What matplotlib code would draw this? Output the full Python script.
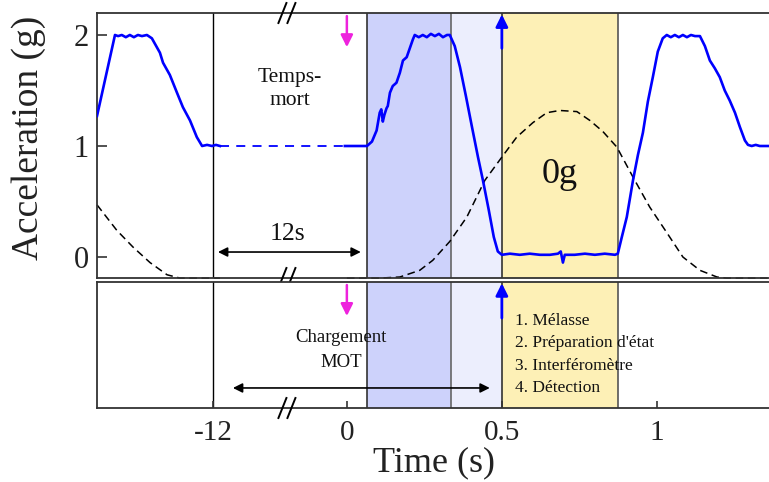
import numpy as np
import matplotlib
matplotlib.use("Agg")
import matplotlib.pyplot as plt

plt.rcParams['font.family'] = ['Liberation Serif', 'DejaVu Serif']

# ---------------- data (time in s, acceleration in g) ----------------
# end of previous parabola (before the 12 s dead time)
prev_t = [-12.374, -12.316, -12.306, -12.294, -12.281, -12.268, -12.255, -12.242, -12.229,
          -12.213, -12.197, -12.171, -12.161, -12.139, -12.116, -12.097, -12.074, -12.052,
          -12.035, -12.019, -12.003, -11.73, -11.37]
prev_g = [1.27, 2.00, 1.99, 2.00, 1.98, 2.00, 1.98, 2.00, 1.99,
          2.00, 1.97, 1.84, 1.75, 1.64, 1.48, 1.35, 1.23, 1.08,
          1.00, 1.01, 1.00, 1.01, 1.00]
# dead time (1 g, dashed)
dead_t = [-11.37, -0.18]
dead_g = [1.0, 1.0]
# current parabola
acc_t = [-0.18, 0.000, 0.065, 0.081, 0.096, 0.106, 0.111, 0.116, 0.121, 0.128, 0.132, 0.139,
         0.148, 0.160, 0.171, 0.181, 0.193, 0.203, 0.213, 0.219,
         0.232, 0.245, 0.258, 0.271, 0.284, 0.297, 0.310, 0.323, 0.332,
         0.348, 0.365, 0.384, 0.403, 0.423, 0.439, 0.458, 0.474, 0.487, 0.500,
         0.526, 0.558, 0.590, 0.623, 0.655, 0.681, 0.690, 0.697, 0.703, 0.735,
         0.768, 0.800, 0.832, 0.865, 0.874,
         0.887, 0.903, 0.923, 0.939, 0.955, 0.971, 0.987, 1.003, 1.019, 1.032,
         1.045, 1.058, 1.071, 1.084, 1.097, 1.110, 1.123, 1.139,
         1.155, 1.171, 1.187, 1.203, 1.219, 1.235, 1.252, 1.268, 1.284, 1.294,
         1.306, 1.319, 1.332, 1.365]
acc_g = [1.00, 1.00, 1.00, 1.04, 1.14, 1.30, 1.33, 1.22, 1.28, 1.34, 1.36, 1.48,
         1.54, 1.57, 1.66, 1.77, 1.80, 1.88, 1.96, 2.00,
         1.98, 2.00, 1.98, 2.01, 1.99, 2.01, 1.98, 2.00, 2.00,
         1.90, 1.71, 1.45, 1.18, 0.90, 0.69, 0.42, 0.18, 0.05, 0.02,
         0.03, 0.02, 0.03, 0.02, 0.02, 0.03, 0.05, -0.05, 0.02, 0.02,
         0.03, 0.02, 0.03, 0.02, 0.03,
         0.18, 0.36, 0.69, 0.92, 1.12, 1.40, 1.62, 1.85, 1.97, 2.00,
         1.98, 2.00, 1.98, 2.00, 1.98, 2.00, 1.99, 1.99,
         1.90, 1.77, 1.70, 1.62, 1.50, 1.41, 1.30, 1.17, 1.05, 1.01,
         1.00, 1.01, 1.00, 1.00]
# trajectory (arbitrary units, dashed black)
traj1_t = [-12.374, -12.310, -12.258, -12.203, -12.148, -12.106, -12.0, -11.37]
traj1_y = [0.47, 0.24, 0.09, -0.05, -0.16, -0.19, -0.19, -0.19]
traj2_t = [0.000, 0.106, 0.171, 0.235, 0.277, 0.332, 0.387, 0.445, 0.5, 0.548, 0.600,
           0.645, 0.687, 0.742, 0.784, 0.826, 0.871, 0.923, 0.977, 1.032, 1.084, 1.139,
           1.194, 1.226, 1.365]
traj2_y = [-0.19, -0.19, -0.18, -0.12, -0.03, 0.14, 0.36, 0.69, 0.90, 1.08, 1.21,
           1.30, 1.32, 1.31, 1.23, 1.13, 0.99, 0.72, 0.45, 0.22, 0.00, -0.12,
           -0.18, -0.19, -0.19]
# phases
phase_edges = [0.065, 0.335, 0.5, 0.874]
phase_colors = ['#cdd2fb', '#eceefd', '#fdf0b6']
list_text = "1. Mélasse\n2. Préparation d'état\n3. Interféromètre\n4. Détection"
xtick_times = [-12, 0, 0.5, 1]
xtick_labels = ['-12', '0', '0.5', '1']
ytick_vals = [0, 1, 2]

# broken time axis: the 12 s gap is compressed
GAP_W = 0.432
def to_axis(t):
    t = np.asarray(t, float)
    return np.where(t <= -12, t + 12 - GAP_W,
                    np.where(t < 0, -GAP_W + (t + 12) * GAP_W / 12, t))

W, H = 769, 482
fig = plt.figure(figsize=(W / 100, H / 100), dpi=100)
L, R = 97, 770
AXW = R - L
ax = fig.add_axes([L / W, 1 - 278 / H, AXW / W, 265 / H])
ax2 = fig.add_axes([L / W, 1 - 408 / H, AXW / W, 126 / H])

xmin, xmax = float(to_axis(-12.374)), 1.365
for a in (ax, ax2):
    a.set_xlim(xmin, xmax)
    for s in a.spines.values():
        s.set_color('#333333')
        s.set_linewidth(1.3)
    a.spines['right'].set_visible(False)
    # phase shading
    for (x0, x1), c in zip(zip(phase_edges[:-1], phase_edges[1:]), phase_colors):
        a.axvspan(x0, x1, color=c, lw=0, zorder=0)
    a.axvline(float(to_axis(-12)), color='black', lw=1.0, zorder=1)
    for xe, c in zip(phase_edges, ['#333333', '#666666', '#333333', '#555555']):
        a.axvline(xe, color=c, lw=1.2, zorder=1)

ax.set_ylim(-0.189, 2.198)
ax2.set_ylim(0, 1)

# curves
ax.plot(to_axis(prev_t), prev_g, color='#0000ff', lw=1.9, zorder=3)
ax.plot(to_axis(dead_t), dead_g, color='#0000ff', lw=1.3, ls=(0, (5, 4)), zorder=3)
ax.plot(to_axis(acc_t), acc_g, color='#0000ff', lw=1.9, zorder=3)
ax.plot(to_axis(traj1_t), traj1_y, color='black', lw=1.1, ls=(0, (5, 3)), zorder=2, clip_on=False)
ax.plot(to_axis(traj2_t), traj2_y, color='black', lw=1.1, ls=(0, (5, 3)), zorder=2, clip_on=False)

# ticks
ax.set_yticks(ytick_vals)
ax.set_yticklabels([str(v) for v in ytick_vals])
ax.tick_params(axis='y', direction='in', length=7, width=1.2, labelsize=22, pad=6,
               colors='#333333', labelcolor='#222222')
ax.tick_params(axis='x', bottom=False, labelbottom=False)
ax.set_ylabel('Acceleration (g)', fontsize=27, color='#222222')
ax.yaxis.set_label_coords((46 - L) / AXW, 0.53)

ax2.set_yticks([])
ax2.set_xticks(to_axis(xtick_times))
ax2.set_xticklabels(xtick_labels)
ax2.tick_params(axis='x', direction='in', length=5, width=1.2, labelsize=21, pad=9,
                colors='#333333', labelcolor='#222222')
ax2.set_xlabel('Time (s)', fontsize=26, color='#222222', labelpad=0)

# arrows
mag = '#ee22dd'
x0 = float(to_axis(0))
ax.annotate('', xy=(x0, 1.89), xytext=(x0, 2.17),
            arrowprops=dict(arrowstyle='-|>', color=mag, lw=1.8, mutation_scale=18, shrinkA=0, shrinkB=0))
ax2.annotate('', xy=(x0, 0.73), xytext=(x0, 0.976),
             xycoords=('data', 'axes fraction'), textcoords=('data', 'axes fraction'),
             arrowprops=dict(arrowstyle='-|>', color=mag, lw=1.8, mutation_scale=18, shrinkA=0, shrinkB=0))
ax.annotate('', xy=(0.5, 2.185), xytext=(0.5, 1.88),
            arrowprops=dict(arrowstyle='-|>', color='#0000ff', lw=2.0, mutation_scale=18, shrinkA=0, shrinkB=0))
ax2.annotate('', xy=(0.5, 0.99), xytext=(0.5, 0.714),
             xycoords=('data', 'axes fraction'), textcoords=('data', 'axes fraction'),
             arrowprops=dict(arrowstyle='-|>', color='#0000ff', lw=2.0, mutation_scale=18, shrinkA=0, shrinkB=0))

# double arrows
ax.annotate('', xy=(float(to_axis(-11.55)), 0.045), xytext=(0.045, 0.045),
            arrowprops=dict(arrowstyle='<|-|>', color='black', lw=1.2, mutation_scale=14, shrinkA=0, shrinkB=0))
ax2.annotate('', xy=(float(to_axis(-10.21)), 0.159), xytext=(0.461, 0.159),
             xycoords=('data', 'axes fraction'), textcoords=('data', 'axes fraction'),
             arrowprops=dict(arrowstyle='<|-|>', color='black', lw=1.2, mutation_scale=14, shrinkA=0, shrinkB=0))

# texts
ax.text(float(to_axis(-5.1)), 1.51, 'Temps-\nmort', fontsize=15.5, ha='center', va='center',
        linespacing=1.3, color='#111111')
ax.text(float(to_axis(-5.28)), 0.21, '12s', fontsize=18.5, ha='center', va='center', color='#111111')
ax.text(0.687, 0.74, '0g', fontsize=26, ha='center', va='center', color='#111111')
ax2.text(float(to_axis(-0.54)), 0.46, 'Chargement\nMOT', fontsize=13.5, ha='center', va='center',
         linespacing=1.55, transform=ax2.get_xaxis_transform(), color='#111111')
ax2.text(0.542, 0.425, list_text, fontsize=12.5, ha='left', va='center', linespacing=1.55,
         transform=ax2.get_xaxis_transform(), color='#111111')

# break marks "//"
xb = float(to_axis(-5.37))
dpp = (xmax - xmin) / AXW  # data units per pixel
def slashes(a, yfrac, hpx):
    tr = a.get_xaxis_transform()
    for off in (-4.5, 4.5):
        a.plot([xb + (off - 4) * dpp, xb + (off + 4) * dpp],
               [yfrac - 10 / hpx, yfrac + 10 / hpx],
               color='black', lw=1.4, transform=tr, clip_on=False, zorder=5)
slashes(ax, 1.0, 265)
slashes(ax, 0.0, 265)
slashes(ax2, 0.0, 126)

fig.savefig('out.png', dpi=100)
